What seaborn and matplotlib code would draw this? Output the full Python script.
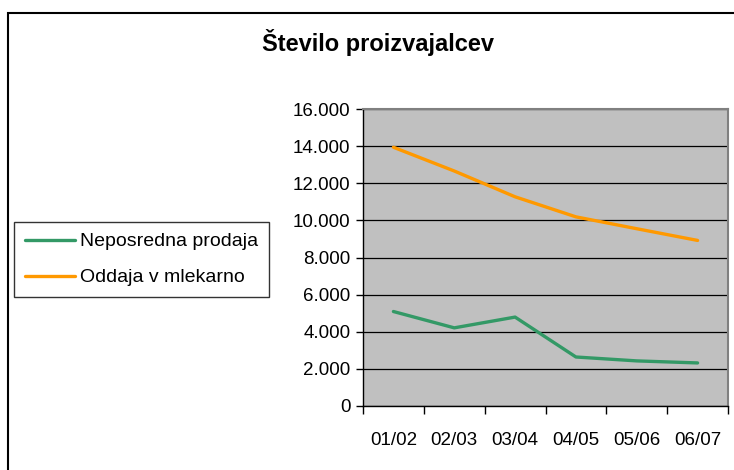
import numpy as np
import pandas as pd
import matplotlib
matplotlib.use("Agg")
import matplotlib.pyplot as plt
import seaborn as sns
from matplotlib.ticker import FuncFormatter, FixedLocator

seasons = ["01/02", "02/03", "03/04", "04/05", "05/06", "06/07"]
neposredna = [5090, 4210, 4790, 2640, 2430, 2320]
oddaja = [13940, 12660, 11270, 10190, 9550, 8920]
series_names = ["Neposredna prodaja", "Oddaja v mlekarno"]
colors = ["#339966", "#FF9900"]
y_ticks = [0, 2000, 4000, 6000, 8000, 10000, 12000, 14000, 16000]

df = pd.DataFrame({
    "season": seasons * 2,
    "value": neposredna + oddaja,
    "series": [series_names[0]] * len(seasons) + [series_names[1]] * len(seasons),
})

sns.set_style("white")
plt.rcParams["font.family"] = ["Liberation Sans", "DejaVu Sans"]
plt.rcParams["text.color"] = "black"
plt.rcParams["xtick.labelcolor"] = "black"
plt.rcParams["ytick.labelcolor"] = "black"

fig = plt.figure(figsize=(7.34, 4.7), dpi=100)
ax = fig.add_axes([363 / 734, 1 - 406 / 470, 365 / 734, 297 / 470])
ax.set_facecolor("#C0C0C0")

sns.lineplot(data=df, x="season", y="value", hue="series", palette=colors,
             linewidth=2.4, sort=False, ax=ax, legend=False)

ax.set_xlim(-0.5, len(seasons) - 0.5)
ax.set_ylim(0, 16000)
ax.set_yticks(y_ticks)
ax.yaxis.set_major_formatter(FuncFormatter(lambda v, p: f"{int(v):,}".replace(",", ".")))
ax.yaxis.grid(True, color="black", linewidth=0.9)
ax.set_axisbelow(True)

# ticks at the category borders, labels in the middle
ax.xaxis.set_major_locator(FixedLocator(np.arange(-0.5, len(seasons), 1.0)))
ax.xaxis.set_minor_locator(FixedLocator(np.arange(len(seasons))))
ax.set_xticklabels([])
ax.set_xticklabels(seasons, minor=True)
ax.tick_params(axis="x", which="major", direction="out", length=6, width=1, color="black", bottom=True)
ax.tick_params(axis="x", which="minor", length=0, pad=19, labelsize=13.5)
ax.tick_params(axis="y", direction="out", length=5, width=1, color="black", left=True, pad=4, labelsize=13.5)
ax.set_xlabel("")
ax.set_ylabel("")

for side in ["left", "bottom"]:
    ax.spines[side].set_color("black")
    ax.spines[side].set_linewidth(1)
for side in ["top", "right"]:
    ax.spines[side].set_color("#808080")
    ax.spines[side].set_linewidth(1.5)

fig.text(378 / 734, 1 - 42 / 470, "Število proizvajalcev", ha="center", va="center",
         fontsize=17, fontweight="bold")

handles = [plt.Line2D([], [], color=c, linewidth=2.4) for c in colors]
leg = fig.legend(handles, series_names, loc="upper left",
                 bbox_to_anchor=(14 / 734, 1 - 222 / 470), fontsize=14,
                 frameon=True, fancybox=False, handlelength=2.6, handletextpad=0.25,
                 borderpad=0.55, labelspacing=0.95, borderaxespad=0)
leg.get_frame().set_edgecolor("black")
leg.get_frame().set_linewidth(1)

# outer chart border
fig.patches.append(plt.Rectangle((8 / 734, -0.1), 1.2, 1.1 - 12.5 / 470, transform=fig.transFigure,
                                 fill=False, edgecolor="black", linewidth=1.5))

fig.savefig("out.png", dpi=100)
